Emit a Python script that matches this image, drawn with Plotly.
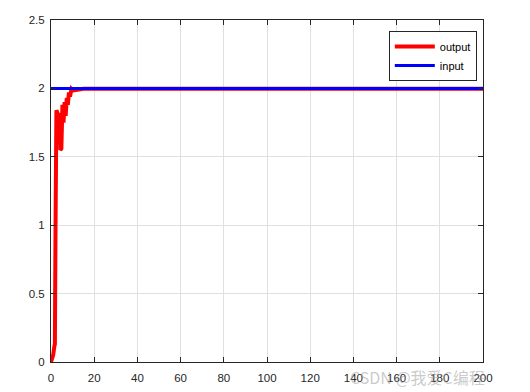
import plotly.graph_objects as go

# Data
out_t = [0, 1, 1.6, 1.8, 2.1, 2.5, 3.0, 3.5, 4.0, 4.3, 4.8, 5.3, 5.8, 6.3, 6.8, 7.3, 7.8, 8.3, 8.8, 9.5, 10.5, 12, 14, 15, 200]
out_y = [0, 0.05, 0.12, 0.13, 1.0, 1.84, 1.82, 1.70, 1.82, 1.55, 1.56, 1.88, 1.75, 1.90, 1.80, 1.93, 1.88, 1.97, 1.94, 1.998, 1.985, 1.99, 1.99, 1.998, 1.998]
in_t = [0, 200]
in_y = [2, 2]
x_ticks = [0, 20, 40, 60, 80, 100, 120, 140, 160, 180, 200]
y_ticks = [0, 0.5, 1, 1.5, 2, 2.5]
y_tick_labels = ["0", "0.5", "1", "1.5", "2", "2.5"]

fig = go.Figure()
fig.add_trace(go.Scatter(x=out_t, y=out_y, mode="lines", name="output",
                         line=dict(color="#ff0000", width=4)))
fig.add_trace(go.Scatter(x=in_t, y=in_y, mode="lines", name="input",
                         line=dict(color="#0000ff", width=3)))

axis_common = dict(
    showline=True, linecolor="#262626", linewidth=1, mirror="allticks",
    ticks="inside", ticklen=5, tickcolor="#262626",
    showgrid=True, gridcolor="#e0e0e0", gridwidth=1, zeroline=False,
    automargin=False,
    tickfont=dict(family="Liberation Sans, Arial", size=11.5, color="#262626"),
)

fig.update_xaxes(range=[0, 200], tickvals=x_ticks, ticklabelstandoff=5, **axis_common)
fig.update_yaxes(range=[0, 2.5], tickvals=y_ticks, ticktext=y_tick_labels, ticklabelstandoff=3, **axis_common)

fig.update_layout(
    width=530, height=392,
    margin=dict(l=51, r=47, t=20, b=30),
    paper_bgcolor="white", plot_bgcolor="white",
    showlegend=True,
    legend=dict(x=0.782, y=0.968, xanchor="left", yanchor="top",
                bgcolor="white", bordercolor="#262626", borderwidth=1,
                font=dict(family="Liberation Sans, Arial", size=11, color="#000000"),
                tracegroupgap=0, itemwidth=40),
)
fig.add_annotation(text="CSDN @我爱C编程", xref="paper", yref="paper",
                   x=(487 - 51) / 432, y=(362 - 377) / 342, xanchor="right", yanchor="middle",
                   showarrow=False,
                   font=dict(family="Noto Sans CJK SC", size=16, color="rgba(150,150,150,0.5)"))

fig.write_html("out.html")
